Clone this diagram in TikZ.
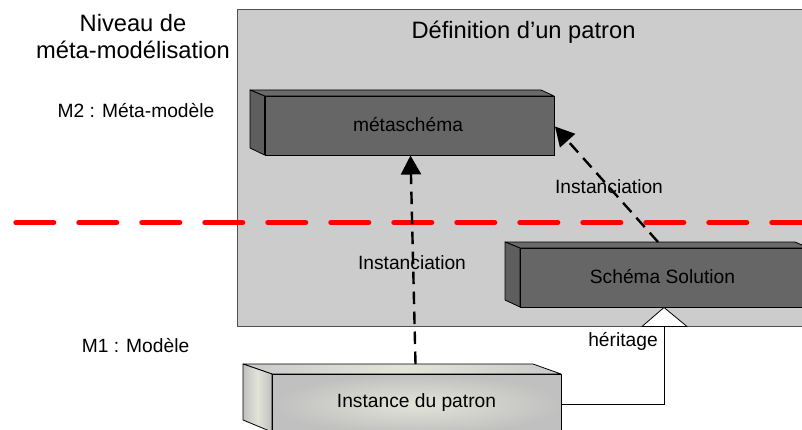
\documentclass[tikz,border=0pt]{standalone}
\usepackage{fontspec}
\setmainfont{Liberation Sans}
\usetikzlibrary{arrows.meta,calc}
\definecolor{panelgrey}{HTML}{CCCCCC}
\definecolor{paneledge}{HTML}{505050}
\definecolor{darkface}{HTML}{666666}
\definecolor{darkside}{HTML}{5E5E5E}
\definecolor{darktop}{HTML}{6A6A6A}
\definecolor{lightedge}{HTML}{C0C0C0}
\definecolor{lightmid}{HTML}{E2E4D8}
\definecolor{reddash}{HTML}{FF0000}
\tikzset{
 x=1pt,y=-1pt,
 lbl/.style={font=\fontsize{19.2}{22}\selectfont,inner sep=0pt,text=black},
 title/.style={font=\fontsize{23.7}{27}\selectfont,inner sep=0pt,align=center,text=black},
 face/.style={draw=black,line width=0.8pt,inner sep=0pt,anchor=north west,line join=miter},
 darkbox/.style={face,fill=darkface},
 edgeline/.style={draw=black,line width=0.8pt,line join=round},
 inst/.style={draw=black,line width=2.4pt,dash pattern=on 12.5pt off 7.5pt,-{Triangle[length=19pt,width=20pt,fill=black]}},
}
\begin{document}
\begin{tikzpicture}
\useasboundingbox (0,0) rectangle (802,430);
\fill[white] (0,0) rectangle (802,430);
\path[draw=paneledge,line width=0.9pt,fill=panelgrey] (803,9.5) -- (237,9.5) -- (237,326) -- (803,326);
\node[title,anchor=base] (ttl) at (523.5,39) {Définition d’un patron};
\node[title,anchor=base] (lvl) at (133,59) {Niveau de\\méta-modélisation};
\node[lbl] (m2) at (136,111) {M2 : Méta-modèle};
\node[lbl] (m1) at (135.5,346) {M1 : Modèle};
% red level line
\coordinate (redL) at (16,222.7);
\coordinate (redR) at (802,222.7);
\draw[reddash,line width=5.5pt,line cap=round,dash pattern=on 37.6pt off 25.4pt] (redL) -- (redR);
% metaschema
\path[edgeline,fill=darktop] (250,90) -- (541,90) -- (554,96) -- (264.5,96) -- cycle;
\path[edgeline,fill=darkside] (250,90) -- (264.5,96) -- (264.5,155) -- (250,148) -- cycle;
\node[darkbox,minimum width=289.5pt,minimum height=59pt] (meta) at (264.5,96) {};
\node[lbl] (metat) at (408,125) {métaschéma};
% schema solution
\path[edgeline,fill=darktop] (505,242) -- (795,242) -- (809,248) -- (520,248) -- cycle;
\path[edgeline,fill=darkside] (505,242) -- (520,248) -- (520,307) -- (505,300) -- cycle;
\node[darkbox,minimum width=289pt,minimum height=59pt] (sol) at (520,248) {};
\node[lbl] (solt) at (662.5,277) {Schéma Solution};
% instance
\path[edgeline,left color=lightedge!85!white,right color=lightedge!85!white,middle color=lightmid] (243,364) -- (533,364) -- (561,374) -- (272,374) -- cycle;
\path[edgeline,left color=lightedge,right color=lightedge,middle color=lightmid] (243,364) -- (272,374) -- (272,432) -- (243,420) -- cycle;
\node[face,minimum width=289pt,minimum height=60pt,inner color=lightmid,outer color=lightedge] (ins) at (272,374) {};
\node[lbl] (inst) at (416.5,403) {Instance du patron};
% named connector ends
\coordinate (insTop) at (415.5,364);
\coordinate (metaBot) at (410.5,155.5);
\coordinate (solTop) at (658,242);
\coordinate (metaRight) at (555,126.5);
\coordinate (triTip) at (664,307.5);
\coordinate (triL) at (642,326.5);
\coordinate (triR) at (687,326.5);
\coordinate (triBase) at (664,326.5);
\coordinate (elbow) at (664,404);
\coordinate (insRight) at (561,404);
% connectors
\draw[inst] (insTop) -- (metaBot);
\draw[inst] (solTop) -- (metaRight);
\draw[black,line width=0.7pt] (insRight) -- (elbow) -- (triBase);
\path[draw=black,line width=0.8pt,fill=white,line join=miter] (triTip) -- (triR) -- (triL) -- cycle;
% labels
\node[lbl] (i1) at (412,263) {Instanciation};
\node[lbl] (i2) at (609,187) {Instanciation};
\node[lbl] (her) at (623,341) {héritage};
\end{tikzpicture}
\end{document}
